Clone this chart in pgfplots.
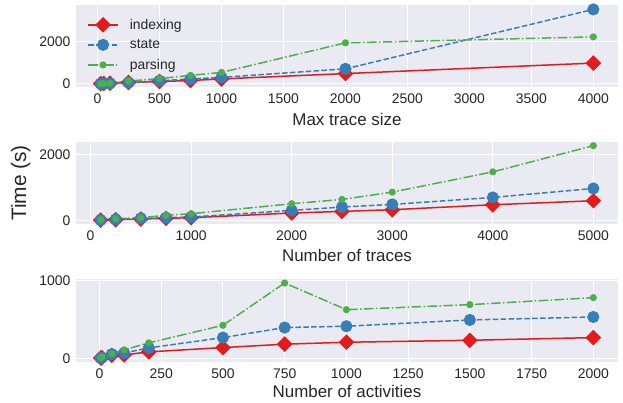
\documentclass[border=0pt]{standalone}
\usepackage{pgfplots}
\pgfplotsset{compat=1.18}
\usepackage{fontspec}
\setmainfont{Liberation Sans}
\definecolor{bg}{HTML}{EAEAF2}
\definecolor{txt}{HTML}{262626}
\definecolor{cR}{HTML}{E41A1C}
\definecolor{cB}{HTML}{377EB8}
\definecolor{cG}{HTML}{4DAF4A}
\pgfplotsset{
  panel/.style={
    scale only axis, width=542bp,
    axis background/.style={fill=bg},
    axis line style={draw=none},
    major tick length=0pt,
    grid=major, grid style={white, line width=1.1bp},
    tick label style={font=\fontsize{14}{16}\selectfont, text=txt},
    xticklabel style={yshift=-3bp},
    yticklabel style={xshift=-2bp},
    label style={font=\fontsize{17}{20}\selectfont, text=txt},
    /pgf/number format/assume math mode=true,
    /pgf/number format/1000 sep={},
    scaled ticks=false,
    anchor=south west,
  },
  sIdx/.style={cR, line width=1.5bp, mark=square*, mark size=4.8bp, mark options={rotate=45, solid, fill=cR, draw=cR}},
  sSt/.style={cB, line width=1.5bp, dash pattern=on 5.5bp off 2.4bp, mark=*, mark size=5.3bp, mark options={solid, fill=cB, draw=cB}},
  sPa/.style={cG, line width=1.5bp, dash pattern=on 9.6bp off 2.4bp on 1.5bp off 2.4bp, mark=*, mark size=2.8bp, mark options={solid, fill=cG, draw=cG}},
}
\begin{document}
\begin{tikzpicture}
\useasboundingbox (0,0) rectangle (623bp,403bp);
% Panel 1
\begin{axis}[panel, at={(76bp,316bp)}, height=82bp,
  xmin=-174, xmax=4199, ymin=-150, ymax=3760,
  xtick={0,500,...,4000}, ytick={0,2000},
  xlabel={Max trace size},
  xlabel style={at={(axis description cs:0.5,-0.39)}, anchor=center},
  legend style={at={(0.015,0.88)}, anchor=north west, draw=none, fill=none,
    font=\fontsize{14}{16}\selectfont, text=txt, row sep=5bp, cells={anchor=west}},
  legend image code/.code={\draw[mark repeat=2,mark phase=2] plot coordinates {(0bp,0bp) (15bp,0bp) (30bp,0bp)}; \path (39bp,0bp);},
]
\addplot[sIdx] coordinates {(25,8) (50,15) (100,30) (250,65) (500,110) (750,160) (1000,235) (2000,490) (4000,990)};
\addlegendentry{indexing}
\addplot[sSt] coordinates {(25,5) (50,10) (100,20) (250,60) (500,150) (750,230) (1000,310) (2000,715) (4000,3550)};
\addlegendentry{state}
\addplot[sPa] coordinates {(25,5) (50,10) (100,25) (250,135) (500,250) (750,405) (1000,545) (2000,1955) (4000,2240)};
\addlegendentry{parsing}
\end{axis}
% Panel 2
\begin{axis}[panel, at={(76bp,179bp)}, height=82bp,
  xmin=-145, xmax=5245, ymin=-100, ymax=2370,
  xtick={0,1000,...,5000}, ytick={0,2000},
  xlabel={Number of traces},
  xlabel style={at={(axis description cs:0.5,-0.38)}, anchor=center},
  ylabel={Time (s)},
  ylabel style={at={(axis description cs:-0.102,0.5)}, anchor=center, font=\fontsize{21}{24}\selectfont},
]
\addplot[sIdx] coordinates {(100,15) (250,30) (500,50) (750,70) (1000,90) (2000,230) (2500,280) (3000,330) (4000,480) (5000,600)};
\addplot[sSt] coordinates {(100,20) (250,40) (500,70) (750,90) (1000,110) (2000,310) (2500,410) (3000,490) (4000,700) (5000,970)};
\addplot[sPa] coordinates {(100,30) (250,60) (500,90) (750,160) (1000,210) (2000,510) (2500,640) (3000,860) (4000,1470) (5000,2260)};
\end{axis}
% Panel 3
\begin{axis}[panel, at={(76bp,41bp)}, height=83bp,
  xmin=-95, xmax=2100, ymin=-40, ymax=1018,
  xtick={0,250,...,2000}, ytick={0,1000},
  xlabel={Number of activities},
  xlabel style={at={(axis description cs:0.5,-0.36)}, anchor=center},
]
\addplot[sIdx] coordinates {(5,10) (10,15) (50,45) (100,50) (200,89) (500,144) (750,187) (1000,212) (1500,237) (2000,271)};
\addplot[sSt] coordinates {(5,10) (10,15) (50,60) (100,75) (200,140) (500,271) (750,399) (1000,416) (1500,496) (2000,534)};
\addplot[sPa] coordinates {(5,15) (10,25) (50,65) (100,115) (200,204) (500,428) (750,967) (1000,627) (1500,691) (2000,780)};
\end{axis}
\end{tikzpicture}
\end{document}
